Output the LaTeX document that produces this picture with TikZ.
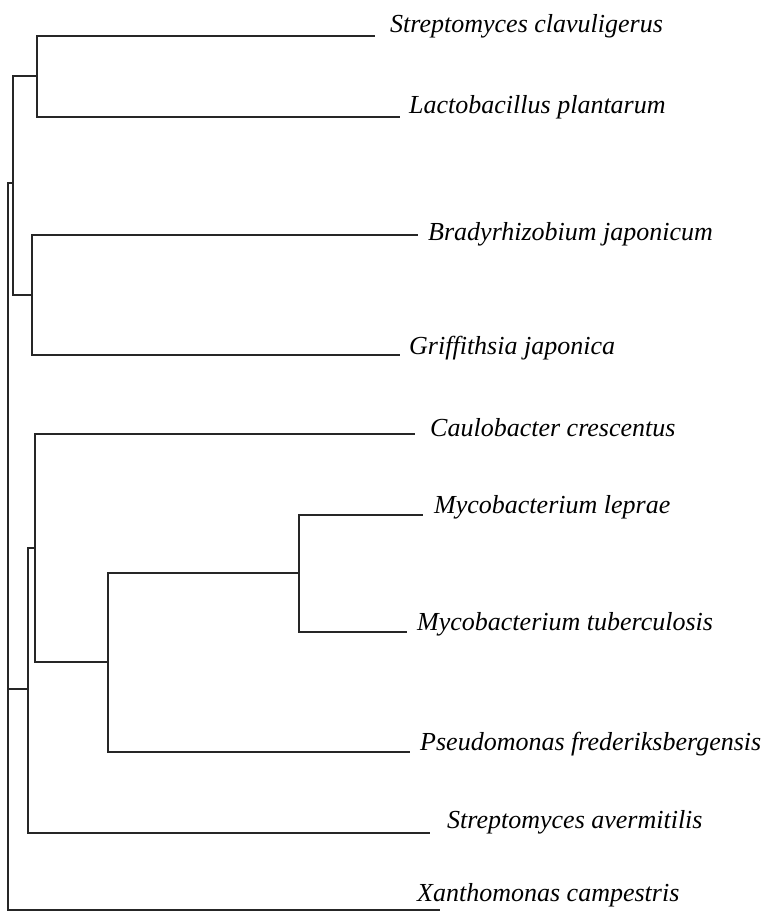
\documentclass[tikz,border=0pt]{standalone}
\usepackage{fontspec}
\setmainfont{Liberation Serif}
\usetikzlibrary{positioning}

\begin{document}
\begin{tikzpicture}[x=1pt, y=-1pt]

% --- Styles ---
\tikzset{
    branch/.style={draw=black!85, line width=1.1pt},
    taxon/.style={anchor=base west, inner sep=0pt, font=\fontsize{26}{30}\selectfont\itshape},
}

\useasboundingbox (0,0) rectangle (766,912);

% --- Leaf tips ---
\coordinate (tclav) at (375,36);
\coordinate (tlact) at (400,117);
\coordinate (tbrad) at (418,235);
\coordinate (tgrif) at (400,355);
\coordinate (tcaul) at (415,434);
\coordinate (tlepr) at (423,515);
\coordinate (ttube) at (407,632);
\coordinate (tpseu) at (410,752);
\coordinate (taver) at (430,833);
\coordinate (txant) at (440,910);

% --- Internal nodes ---
\coordinate (nclav) at (37,76);
\coordinate (nbrad) at (32,295);
\coordinate (nupper) at (13,183);
\coordinate (nmyco) at (299,573);
\coordinate (npseu) at (108,662);
\coordinate (ncaul) at (35,548);
\coordinate (nlower) at (28,689);
\coordinate (nroot) at (8,550);

% --- Labels ---
\node[taxon] (lclav) at (390,33) {Streptomyces clavuligerus};
\node[taxon] (llact) at (409,114) {Lactobacillus plantarum};
\node[taxon] (lbrad) at (428,240) {Bradyrhizobium japonicum};
\node[taxon] (lgrif) at (409,354) {Griffithsia japonica};
\node[taxon] (lcaul) at (430,436) {Caulobacter crescentus};
\node[taxon] (llepr) at (434,513) {Mycobacterium leprae};
\node[taxon] (ltube) at (417,630) {Mycobacterium tuberculosis};
\node[taxon] (lpseu) at (420,750) {Pseudomonas frederiksbergensis};
\node[taxon] (laver) at (447,828) {Streptomyces avermitilis};
\node[taxon] (lxant) at (417,901) {Xanthomonas campestris};

% --- Branches ---
\draw[branch] (nclav) |- (tclav);
\draw[branch] (nclav) |- (tlact);
\draw[branch] (nbrad) |- (tbrad);
\draw[branch] (nbrad) |- (tgrif);
\draw[branch] (nupper) |- (nclav);
\draw[branch] (nupper) |- (nbrad);

\draw[branch] (nmyco) |- (tlepr);
\draw[branch] (nmyco) |- (ttube);
\draw[branch] (npseu) |- (nmyco);
\draw[branch] (npseu) |- (tpseu);
\draw[branch] (ncaul) |- (tcaul);
\draw[branch] (ncaul) |- (npseu);
\draw[branch] (nlower) |- (ncaul);
\draw[branch] (nlower) |- (taver);

\draw[branch] (nroot) |- (nupper);
\draw[branch] (nroot) |- (nlower);
\draw[branch] (nroot) |- (txant);

\end{tikzpicture}
\end{document}
